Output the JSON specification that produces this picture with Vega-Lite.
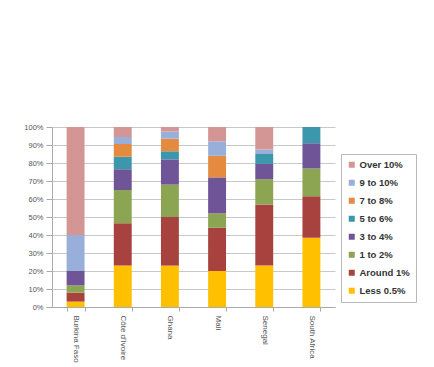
{
  "$schema": "https://vega.github.io/schema/vega-lite/v6.json",
  "width": 283,
  "height": 180,
  "autosize": {"type": "none"},
  "padding": {"left": 52, "top": 127, "right": 99, "bottom": 60},
  "background": "white",
  "config": {
    "view": {"stroke": null},
    "font": "Liberation Sans"
  },
  "data": {
    "values": [
      {"country": "Burkina Faso", "band": "Less 0.5%", "level": 1, "share": 3},
      {"country": "Burkina Faso", "band": "Around 1%", "level": 2, "share": 5},
      {"country": "Burkina Faso", "band": "1 to 2%", "level": 3, "share": 4},
      {"country": "Burkina Faso", "band": "3 to 4%", "level": 4, "share": 8},
      {"country": "Burkina Faso", "band": "5 to 6%", "level": 5, "share": 0},
      {"country": "Burkina Faso", "band": "7 to 8%", "level": 6, "share": 0},
      {"country": "Burkina Faso", "band": "9 to 10%", "level": 7, "share": 20},
      {"country": "Burkina Faso", "band": "Over 10%", "level": 8, "share": 60},

      {"country": "Côte d'Ivoire", "band": "Less 0.5%", "level": 1, "share": 23},
      {"country": "Côte d'Ivoire", "band": "Around 1%", "level": 2, "share": 23.5},
      {"country": "Côte d'Ivoire", "band": "1 to 2%", "level": 3, "share": 18.5},
      {"country": "Côte d'Ivoire", "band": "3 to 4%", "level": 4, "share": 11.5},
      {"country": "Côte d'Ivoire", "band": "5 to 6%", "level": 5, "share": 7},
      {"country": "Côte d'Ivoire", "band": "7 to 8%", "level": 6, "share": 7},
      {"country": "Côte d'Ivoire", "band": "9 to 10%", "level": 7, "share": 4},
      {"country": "Côte d'Ivoire", "band": "Over 10%", "level": 8, "share": 5.5},

      {"country": "Ghana", "band": "Less 0.5%", "level": 1, "share": 23},
      {"country": "Ghana", "band": "Around 1%", "level": 2, "share": 27},
      {"country": "Ghana", "band": "1 to 2%", "level": 3, "share": 18},
      {"country": "Ghana", "band": "3 to 4%", "level": 4, "share": 14},
      {"country": "Ghana", "band": "5 to 6%", "level": 5, "share": 4.5},
      {"country": "Ghana", "band": "7 to 8%", "level": 6, "share": 7},
      {"country": "Ghana", "band": "9 to 10%", "level": 7, "share": 4},
      {"country": "Ghana", "band": "Over 10%", "level": 8, "share": 2.5},

      {"country": "Mali", "band": "Less 0.5%", "level": 1, "share": 20},
      {"country": "Mali", "band": "Around 1%", "level": 2, "share": 24},
      {"country": "Mali", "band": "1 to 2%", "level": 3, "share": 8},
      {"country": "Mali", "band": "3 to 4%", "level": 4, "share": 20},
      {"country": "Mali", "band": "5 to 6%", "level": 5, "share": 0},
      {"country": "Mali", "band": "7 to 8%", "level": 6, "share": 12},
      {"country": "Mali", "band": "9 to 10%", "level": 7, "share": 8},
      {"country": "Mali", "band": "Over 10%", "level": 8, "share": 8},

      {"country": "Senegal", "band": "Less 0.5%", "level": 1, "share": 23},
      {"country": "Senegal", "band": "Around 1%", "level": 2, "share": 34},
      {"country": "Senegal", "band": "1 to 2%", "level": 3, "share": 14},
      {"country": "Senegal", "band": "3 to 4%", "level": 4, "share": 8.5},
      {"country": "Senegal", "band": "5 to 6%", "level": 5, "share": 5.5},
      {"country": "Senegal", "band": "7 to 8%", "level": 6, "share": 0},
      {"country": "Senegal", "band": "9 to 10%", "level": 7, "share": 2.5},
      {"country": "Senegal", "band": "Over 10%", "level": 8, "share": 12.5},

      {"country": "South Africa", "band": "Less 0.5%", "level": 1, "share": 38.5},
      {"country": "South Africa", "band": "Around 1%", "level": 2, "share": 23},
      {"country": "South Africa", "band": "1 to 2%", "level": 3, "share": 15.5},
      {"country": "South Africa", "band": "3 to 4%", "level": 4, "share": 14},
      {"country": "South Africa", "band": "5 to 6%", "level": 5, "share": 9},
      {"country": "South Africa", "band": "7 to 8%", "level": 6, "share": 0},
      {"country": "South Africa", "band": "9 to 10%", "level": 7, "share": 0},
      {"country": "South Africa", "band": "Over 10%", "level": 8, "share": 0}
    ]
  },
  "mark": {"type": "bar"},
  "encoding": {
    "x": {
      "field": "country",
      "type": "nominal",
      "sort": null,
      "scale": {"paddingInner": 0.62, "paddingOuter": 0.31},
      "axis": {
        "title": null,
        "labelAngle": 90,
        "labelAlign": "left",
        "labelBaseline": "middle",
        "labelFontSize": 8,
        "labelColor": "#555555",
        "labelPadding": 4,
        "tickBand": "extent",
        "tickSize": 4,
        "tickColor": "#aaaaaa",
        "domainColor": "#aaaaaa"
      }
    },
    "y": {
      "field": "share",
      "type": "quantitative",
      "stack": "normalize",
      "axis": {
        "title": null,
        "format": ".0%",
        "values": [0, 0.1, 0.2, 0.3, 0.4, 0.5, 0.6, 0.7, 0.8, 0.9, 1],
        "labelOverlap": false,
        "labelFontSize": 7.5,
        "labelColor": "#555555",
        "labelPadding": 3,
        "tickSize": 6,
        "tickColor": "#aaaaaa",
        "domainColor": "#aaaaaa",
        "gridColor": "#c8c8c8"
      }
    },
    "order": {"field": "level", "type": "quantitative", "sort": "ascending"},
    "color": {
      "field": "band",
      "type": "nominal",
      "scale": {
        "domain": ["Over 10%", "9 to 10%", "7 to 8%", "5 to 6%", "3 to 4%", "1 to 2%", "Around 1%", "Less 0.5%"],
        "range": ["#d49694", "#97afd9", "#e48b3f", "#3d97ac", "#6f5597", "#8ba552", "#a8423f", "#ffc000"]
      },
      "legend": {
        "title": null,
        "orient": "none",
        "legendX": 289,
        "legendY": 27,
        "symbolType": "square",
        "symbolSize": 36,
        "symbolStrokeWidth": 0,
        "labelFontSize": 9.5,
        "labelFontWeight": "bold",
        "labelColor": "#333333",
        "labelOffset": 3,
        "rowPadding": 7,
        "padding": 6,
        "strokeColor": "#b8b8b8"
      }
    }
  }
}
